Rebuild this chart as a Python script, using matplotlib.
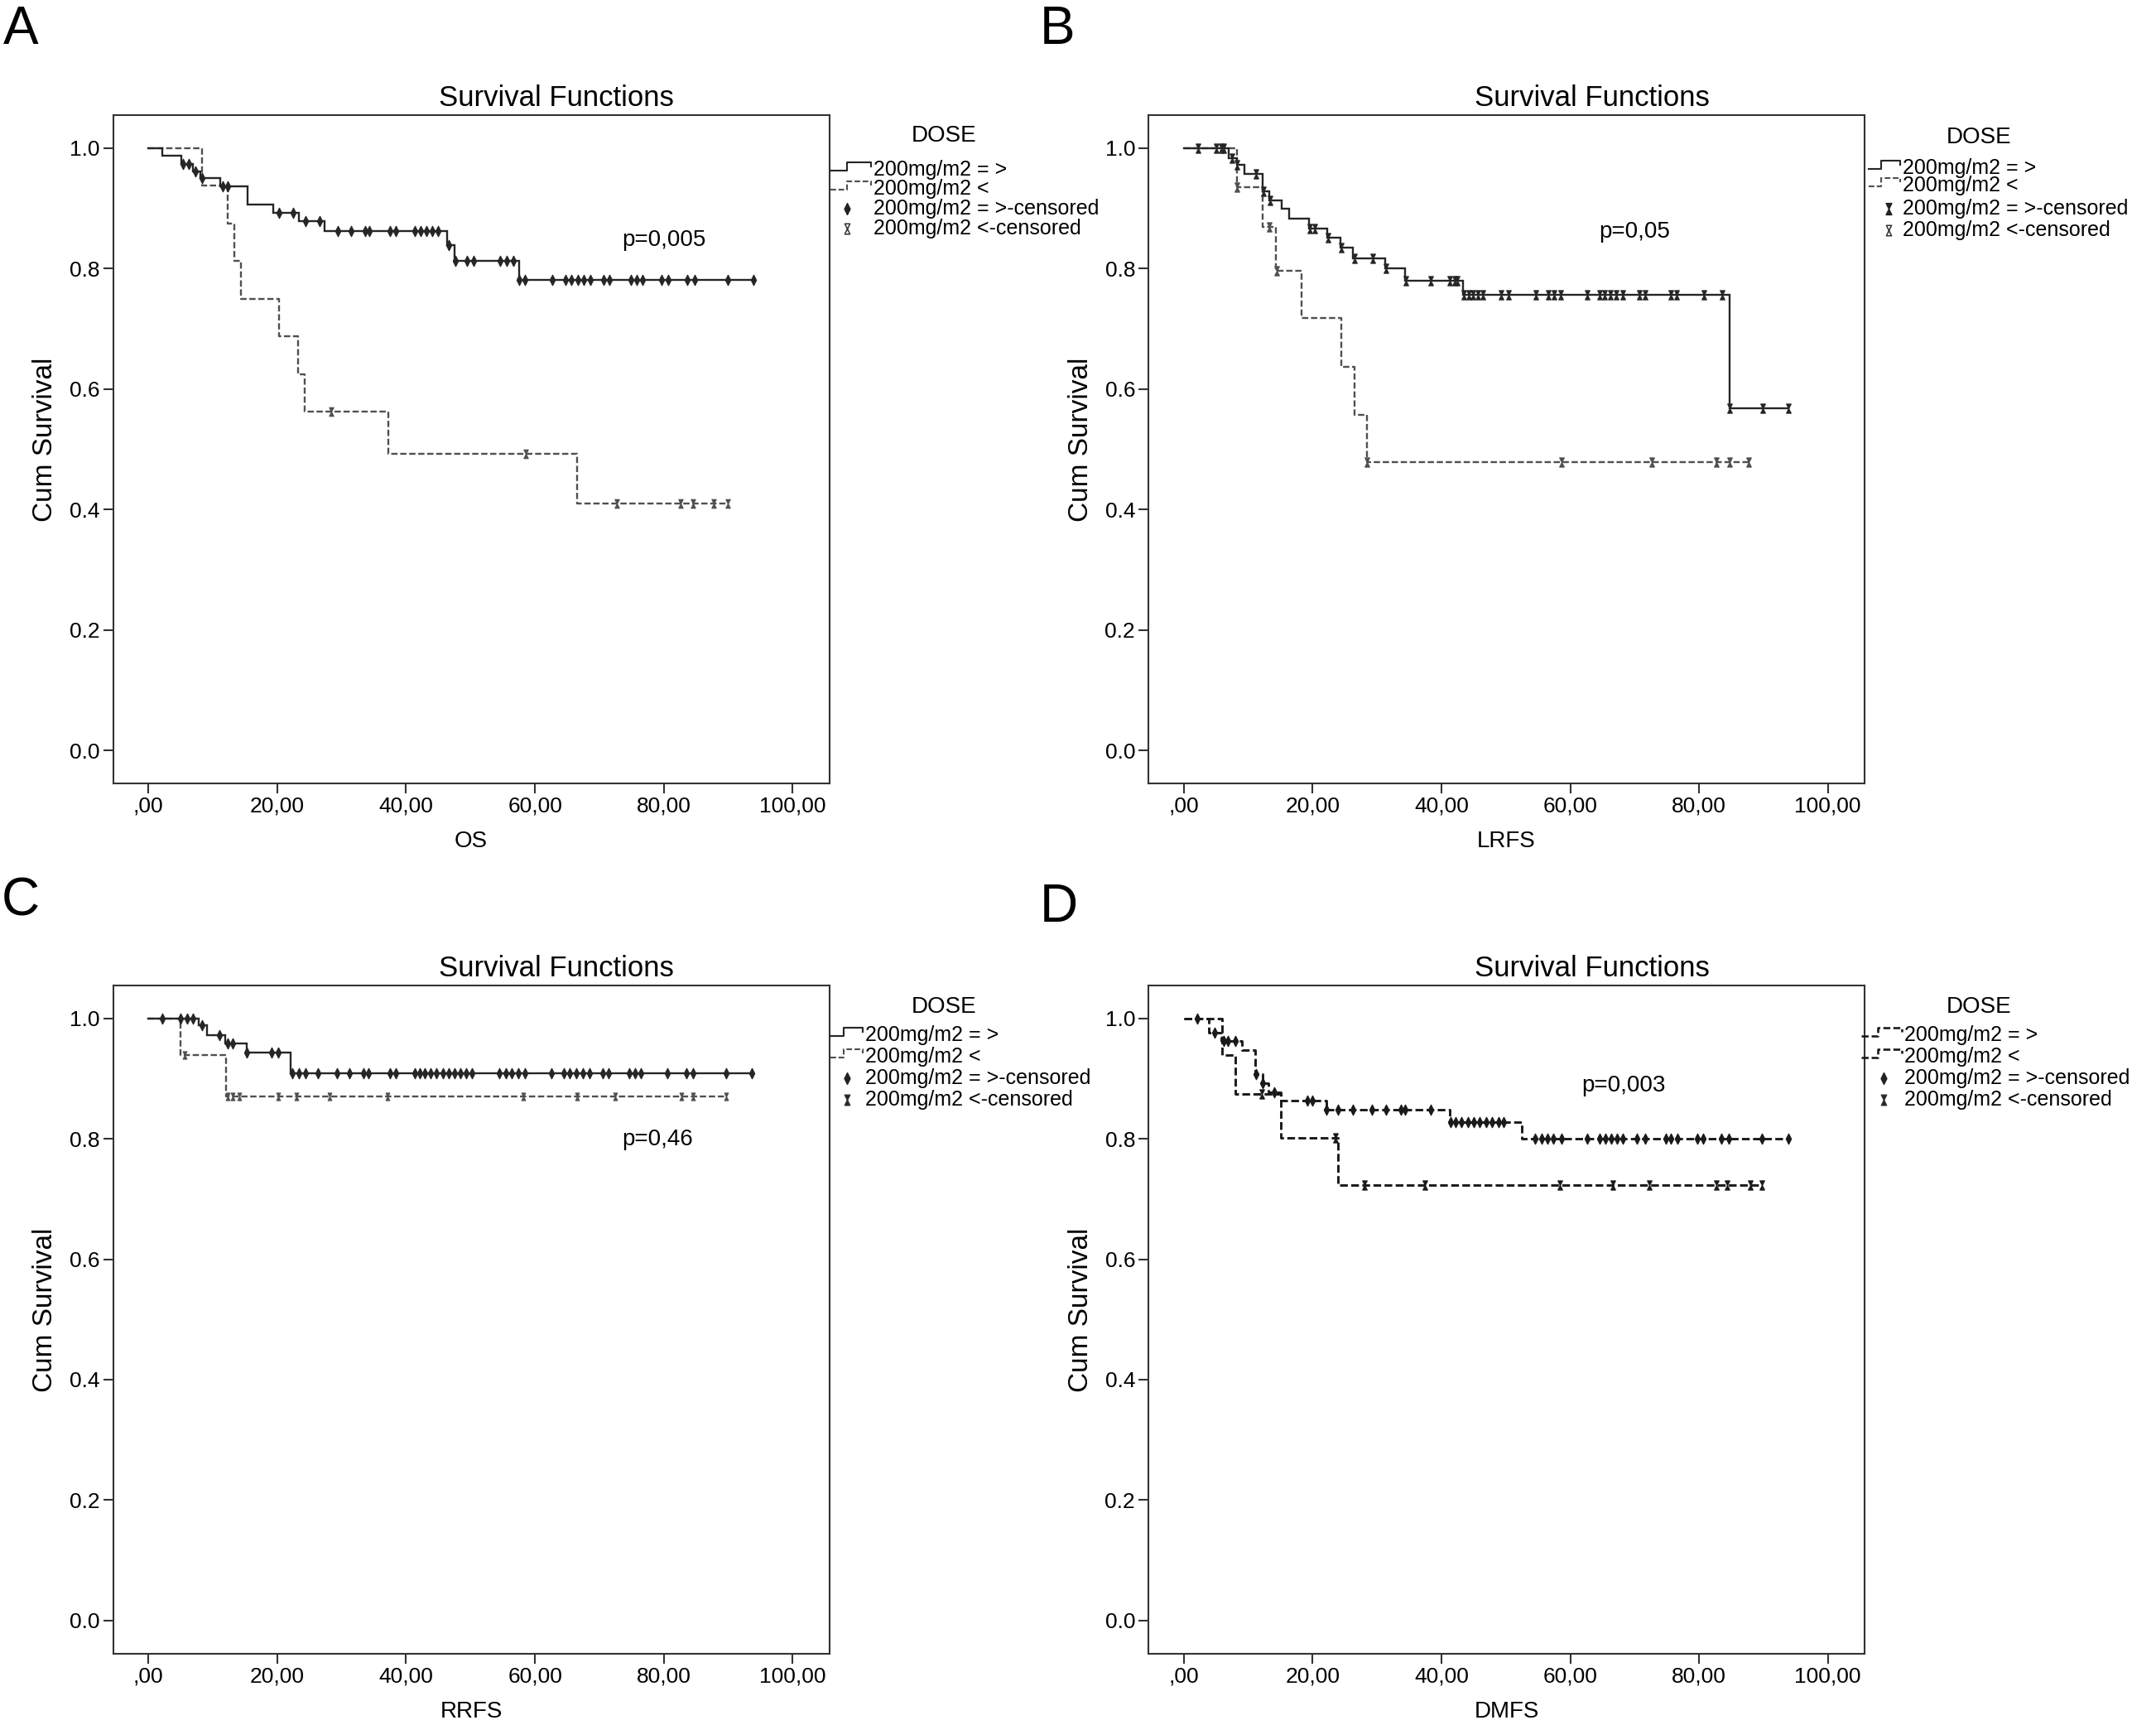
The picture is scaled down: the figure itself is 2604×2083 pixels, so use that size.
import numpy as np
import matplotlib
matplotlib.use("Agg")
import matplotlib.pyplot as plt
from matplotlib.path import Path
from matplotlib.lines import Line2D

plt.rcParams['font.family'] = ['Liberation Sans', 'DejaVu Sans']

# ---- data ----
# A: OS
a_hi_t = [0, 2.2, 5.1, 6.9, 8.0, 11.2, 15.4, 19.4, 23.4, 27.3, 46.4, 47.5, 57.6]
a_hi_s = [1.0, 0.987, 0.974, 0.962, 0.951, 0.937, 0.907, 0.893, 0.879, 0.862, 0.839, 0.813, 0.781]
a_hi_c = [5.3, 6.3, 7.3, 8.3, 11.5, 12.3, 20.3, 22.5, 24.4, 26.6, 29.4, 31.4, 33.6, 34.3, 37.5,
          38.4, 41.3, 42.3, 43.1, 44.0, 45.0, 46.6, 47.6, 49.5, 50.5, 54.6, 55.6, 56.6, 57.6, 58.4,
          62.7, 64.7, 65.6, 66.7, 67.6, 68.6, 70.7, 71.5, 74.9, 75.8, 76.7, 79.7, 80.7, 83.7, 84.8,
          89.9, 93.9]
a_lo_t = [0, 8.3, 12.3, 13.3, 14.4, 20.3, 23.2, 24.3, 37.3, 66.5]
a_lo_s = [1.0, 0.9375, 0.875, 0.8125, 0.75, 0.6875, 0.625, 0.5625, 0.492, 0.410]
a_lo_c = [28.4, 58.6, 72.7, 82.6, 84.6, 87.7, 89.9]

# B: LRFS
b_hi_t = [0, 7.0, 8.2, 9.4, 12.3, 13.3, 15.2, 16.3, 19.4, 22.3, 24.3, 26.3, 31.3, 34.4, 43.3, 84.7]
b_hi_s = [1.0, 0.984, 0.972, 0.957, 0.928, 0.914, 0.899, 0.883, 0.867, 0.852, 0.835, 0.817,
          0.800, 0.780, 0.757, 0.568]
b_hi_c = [2.2, 5.1, 5.8, 6.2, 7.5, 8.3, 11.2, 12.4, 13.4, 19.6, 20.3, 22.4, 24.4, 26.5, 29.4,
          31.4, 34.5, 38.4, 41.3, 42.1, 42.4, 43.5, 44.2, 44.9, 45.7, 46.4, 49.3, 50.4, 54.6, 56.6,
          57.5, 58.5, 62.6, 64.5, 65.3, 66.2, 67.1, 68.2, 70.7, 71.6, 75.6, 76.5, 80.7, 83.6, 84.8,
          89.9, 93.9]
b_lo_t = [0, 8.2, 12.3, 14.3, 18.3, 24.4, 26.5, 28.4]
b_lo_s = [1.0, 0.935, 0.870, 0.796, 0.718, 0.637, 0.557, 0.478]
b_lo_c = [8.3, 13.3, 14.4, 28.5, 58.6, 72.7, 82.7, 84.7, 87.7]

# C: RRFS
c_hi_t = [0, 7.8, 9.1, 11.9, 15.2, 22.1]
c_hi_s = [1.0, 0.989, 0.973, 0.959, 0.944, 0.909]
c_hi_c = [2.1, 5.0, 6.0, 6.9, 8.3, 11.0, 12.3, 13.05, 15.3, 19.1, 20.1, 22.3, 23.4, 24.4, 26.3,
          29.3, 31.2, 33.4, 34.2, 37.5, 38.4, 41.3, 42.1, 42.9, 43.8, 44.7, 45.7, 46.6, 47.5, 48.4,
          49.3, 50.2, 54.5, 55.5, 56.4, 57.4, 58.4, 62.5, 64.5, 65.4, 66.4, 67.4, 68.5, 70.5, 71.4,
          74.7, 75.6, 76.5, 80.5, 83.5, 84.5, 89.7, 93.7]
c_lo_t = [0, 5.0, 12.1]
c_lo_s = [1.0, 0.939, 0.871]
c_lo_c = [5.6, 12.3, 13.1, 14.1, 20.1, 23.0, 28.1, 37.1, 58.2, 66.5, 72.5, 82.7, 84.6, 89.7]

# D: DMFS
d_hi_t = [0, 3.9, 5.8, 9.0, 11.1, 12.3, 13.2, 15.1, 22.1, 41.3, 52.5]
d_hi_s = [1.0, 0.976, 0.963, 0.948, 0.908, 0.893, 0.878, 0.864, 0.848, 0.828, 0.800]
d_hi_c = [2.1, 4.8, 6.2, 6.9, 8.0, 11.2, 12.3, 14.0, 19.2, 19.9, 22.2, 24.0, 26.2, 29.2, 31.4,
          33.7, 34.4, 38.3, 41.4, 42.2, 43.1, 44.1, 45.0, 45.9, 46.9, 47.8, 48.9, 49.6, 54.5, 55.6,
          56.5, 57.4, 58.6, 62.6, 64.5, 65.5, 66.4, 67.3, 68.2, 70.4, 71.6, 74.9, 75.6, 76.6, 79.7,
          80.6, 83.4, 84.6, 89.8, 93.9]
d_lo_t = [0, 6.0, 8.0, 15.1, 24.0]
d_lo_s = [1.0, 0.940, 0.875, 0.802, 0.723]
d_lo_c = [12.1, 23.5, 28.1, 37.4, 58.4, 66.6, 72.3, 82.7, 84.3, 87.9, 89.8]

x_ticks = [0, 20, 40, 60, 80, 100]
x_labels = [',00', '20,00', '40,00', '60,00', '80,00', '100,00']
y_ticks = [0.0, 0.2, 0.4, 0.6, 0.8, 1.0]
y_labels = ['0.0', '0.2', '0.4', '0.6', '0.8', '1.0']
group_labels = ['200mg/m2 = >', '200mg/m2 <', '200mg/m2 = >-censored', '200mg/m2 <-censored']

W, H = 2604, 2083
fig = plt.figure(figsize=(W / 100, H / 100), dpi=100)

diamond = Path([(0, 1), (0.5, 0), (0, -1), (-0.5, 0), (0, 1)],
               [Path.MOVETO, Path.LINETO, Path.LINETO, Path.LINETO, Path.CLOSEPOLY])
hourglass = Path([(-0.5, 1), (0.5, 1), (-0.5, -1), (0.5, -1), (-0.5, 1)],
                 [Path.MOVETO, Path.LINETO, Path.LINETO, Path.LINETO, Path.CLOSEPOLY])

dash = (0, (3.2, 1.4))


def fx(x):
    return x / W


def fy(y):
    return 1 - y / H


def km(ax, t, s, c, ls, color, lw, marker, ms, mfc):
    t = np.array(t, dtype=float)
    s = np.array(s, dtype=float)
    c = np.array(c, dtype=float)
    end = max(t[-1], c.max())
    ax.step(np.append(t, end), np.append(s, s[-1]), where='post',
            color=color, lw=lw, linestyle=ls, solid_joinstyle='miter')
    idx = np.searchsorted(t, c, side='right') - 1
    ax.plot(c, s[idx], linestyle='none', marker=marker, ms=ms,
            mfc=mfc, mec=color, mew=0.9)


panels = [
    dict(letter='A', lxy=(25, 36), rect=(136.5, 139, 1001.6, 946), xlabel='OS', p='p=0,005', pxy=(80.0, 0.847),
         hi=(a_hi_t, a_hi_s, a_hi_c), lo=(a_lo_t, a_lo_s, a_lo_c),
         hi_ls='-', lo_ls=dash, hi_col='#262626', lo_col='#505050', lw=1.7,
         hi_mk=diamond, hi_ms=9, lo_mk=hourglass, lo_ms=7.5, lo_mfc='#505050', leg_lo_mfc='white',
         leg=dict(dose=(1140, 164), sx=1003, tx=1055, mx=1023, rows=[205, 228, 252, 276])),
    dict(letter='B', lxy=(1277, 36), rect=(1387, 139, 2252, 946), xlabel='LRFS', p='p=0,05', pxy=(70.0, 0.861),
         hi=(b_hi_t, b_hi_s, b_hi_c), lo=(b_lo_t, b_lo_s, b_lo_c),
         hi_ls='-', lo_ls=dash, hi_col='#262626', lo_col='#505050', lw=1.7,
         hi_mk=hourglass, hi_ms=8, lo_mk=hourglass, lo_ms=8, lo_mfc='#505050', leg_lo_mfc='white',
         leg=dict(dose=(2390, 166), sx=2257, tx=2298, mx=2281, rows=[203, 224, 252, 278])),
    dict(letter='C', lxy=(25, 1088), rect=(136.5, 1190, 1001.6, 1996.5), xlabel='RRFS', p='p=0,46', pxy=(79.0, 0.799),
         hi=(c_hi_t, c_hi_s, c_hi_c), lo=(c_lo_t, c_lo_s, c_lo_c),
         hi_ls='-', lo_ls=dash, hi_col='#262626', lo_col='#505050', lw=1.7,
         hi_mk=diamond, hi_ms=9, lo_mk=hourglass, lo_ms=6.5, lo_mfc='#505050', leg_lo_mfc='#222222',
         leg=dict(dose=(1140, 1216), sx=1003, tx=1045, mx=1023, rows=[1250, 1276, 1302, 1328])),
    dict(letter='D', lxy=(1279, 1096), rect=(1387, 1190, 2252, 1996.5), xlabel='DMFS', p='p=0,003', pxy=(68.3, 0.888),
         hi=(d_hi_t, d_hi_s, d_hi_c), lo=(d_lo_t, d_lo_s, d_lo_c),
         hi_ls=dash, lo_ls=dash, hi_col='#1a1a1a', lo_col='#1a1a1a', lw=2.1,
         hi_mk=diamond, hi_ms=9, lo_mk=hourglass, lo_ms=8, lo_mfc='#1a1a1a', leg_lo_mfc='#222222',
         leg=dict(dose=(2390, 1216), sx=2248, tx=2300, mx=2275, rows=[1250, 1276, 1302, 1328])),
]

for p in panels:
    x0, y0, x1, y1 = p['rect']
    ax = fig.add_axes([fx(x0), fy(y1), (x1 - x0) / W, (y1 - y0) / H])
    ax.set_xlim(-5.5, 105.7)
    ax.set_ylim(-0.055, 1.055)
    for sp in ax.spines.values():
        sp.set_linewidth(1.5)
        sp.set_color('#333333')
    ax.set_xticks(x_ticks)
    ax.set_xticklabels(x_labels)
    ax.set_yticks(y_ticks)
    ax.set_yticklabels(y_labels)
    ax.tick_params(direction='out', length=8.5, width=1.5, color='#333333', labelsize=19, pad=3)
    ax.tick_params(top=False, right=False)

    km(ax, *p['lo'], p['lo_ls'], p['lo_col'], p['lw'], p['lo_mk'], p['lo_ms'], p['lo_mfc'])
    km(ax, *p['hi'], p['hi_ls'], p['hi_col'], p['lw'], p['hi_mk'], p['hi_ms'], p['hi_col'])

    ax.text(p['pxy'][0], p['pxy'][1], p['p'], ha='center', va='center', fontsize=20)
    ax.text(0.5 + 103 / (x1 - x0), 1 + 11 / (y1 - y0), 'Survival Functions',
            transform=ax.transAxes, ha='center', va='baseline', fontsize=25)
    ax.text(0.5, -70 / (y1 - y0), p['xlabel'], transform=ax.transAxes,
            ha='center', va='center', fontsize=20)
    ax.text(-82 / (x1 - x0), 0.514, 'Cum Survival', transform=ax.transAxes,
            ha='center', va='center', rotation=90, fontsize=24)

    fig.text(fx(p['lxy'][0]), fy(p['lxy'][1]), p['letter'], ha='center', va='center', fontsize=46)

    # legend drawn by hand, like the SPSS one
    lg = p['leg']
    fig.text(fx(lg['dose'][0]), fy(lg['dose'][1]), 'DOSE', ha='center', va='center', fontsize=20)
    for i, (ls, col) in enumerate([(p['hi_ls'], p['hi_col']), (p['lo_ls'], p['lo_col'])]):
        ry = lg['rows'][i]
        sx = lg['sx']
        span = lg['tx'] - sx - 3
        xs = np.array([sx, sx + span * 0.4, sx + span * 0.4, sx + span, sx + span])
        ys = np.array([ry + 1, ry + 1, ry - 9, ry - 9, ry - 4])
        fig.add_artist(Line2D(fx(xs), fy(ys), transform=fig.transFigure,
                              color=col, lw=p['lw'] * 0.9, linestyle=ls))
    fig.add_artist(Line2D([fx(lg['mx'])], [fy(lg['rows'][2])], transform=fig.transFigure,
                          linestyle='none', marker=p['hi_mk'], ms=10,
                          mfc='#222222', mec='#222222'))
    fig.add_artist(Line2D([fx(lg['mx'])], [fy(lg['rows'][3])], transform=fig.transFigure,
                          linestyle='none', marker=hourglass, ms=9,
                          mfc=p['leg_lo_mfc'], mec='#333333', mew=1.1))
    for i, lab in enumerate(group_labels):
        fig.text(fx(lg['tx']), fy(lg['rows'][i]), lab, ha='left', va='center', fontsize=18)

fig.savefig('out.png', dpi=100, facecolor='white')
